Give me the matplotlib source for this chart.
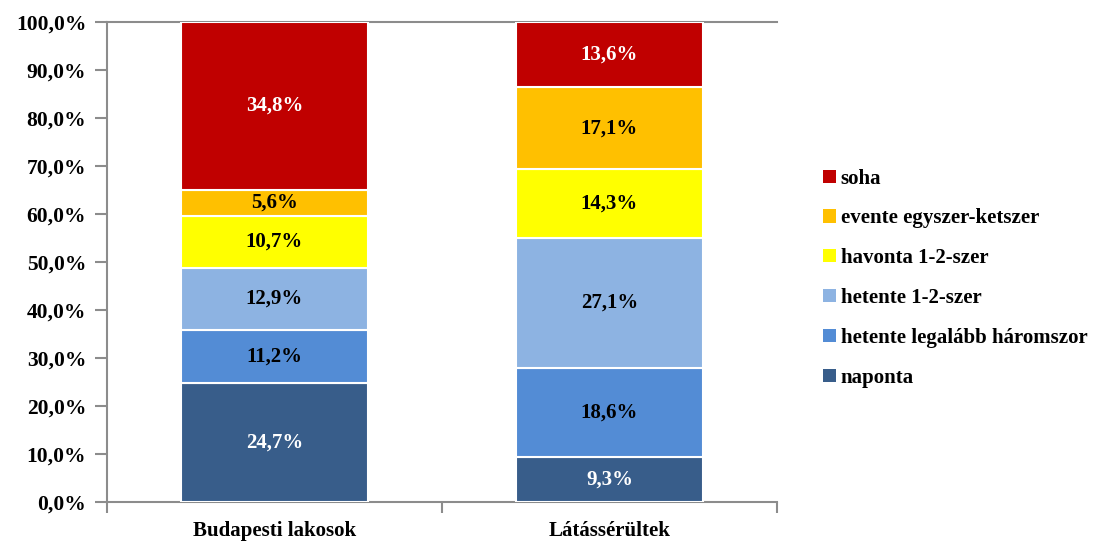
import numpy as np
import matplotlib
matplotlib.use("Agg")
import matplotlib.pyplot as plt
import matplotlib.ticker as ticker
from matplotlib.patches import Patch

plt.rcParams["font.family"] = ["Liberation Serif", "DejaVu Serif"]
plt.rcParams["font.weight"] = "bold"

# Data (percent shares, bottom to top)
groups = ["Budapesti lakosok", "Látássérültek"]
series = ["naponta", "hetente legalább háromszor", "hetente 1-2-szer",
          "havonta 1-2-szer", "evente egyszer-ketszer", "soha"]
naponta = [24.7, 9.3]
hetente_legalabb = [11.2, 18.6]
hetente_12 = [12.9, 27.1]
havonta = [10.7, 14.3]
evente = [5.6, 17.1]
soha = [34.8, 13.6]
values = [naponta, hetente_legalabb, hetente_12, havonta, evente, soha]

COLORS = ["#385D8A", "#538CD5", "#8DB3E2", "#FFFF00", "#FFC000", "#C00000"]
TEXT_COLORS = ["white", "black", "black", "black", "black", "white"]
GREY = "#8C8C8C"

fig = plt.figure(figsize=(11.04, 5.41), dpi=100)
ax = fig.add_axes([0.0969, 0.0721, 0.6069, 0.8872])

x = np.arange(len(groups))
bottom = np.zeros(len(groups))
for vals, col, tcol in zip(values, COLORS, TEXT_COLORS):
    vals = np.array(vals)
    ax.bar(x, vals, width=0.56, bottom=bottom, color=col,
           edgecolor="white", linewidth=1.5, zorder=3)
    for xi, b, v in zip(x, bottom, vals):
        ax.text(xi, b + v / 2, f"{v:.1f}%".replace(".", ","),
                ha="center", va="center", fontsize=15, fontweight="bold",
                color=tcol, zorder=4)
    bottom += vals

ax.set_xlim(-0.5, 1.5)
ax.set_ylim(0, 100)

# 100% line at the top
ax.axhline(100, color=GREY, linewidth=1.5, zorder=2, clip_on=False)

for side in ["top", "right"]:
    ax.spines[side].set_visible(False)
for side in ["left", "bottom"]:
    ax.spines[side].set_color(GREY)
    ax.spines[side].set_linewidth(1.5)

ax.yaxis.set_major_locator(ticker.MultipleLocator(10))
ax.yaxis.set_major_formatter(
    ticker.FuncFormatter(lambda v, p: f"{v:.1f}%".replace(".", ",")))
ax.tick_params(axis="y", direction="out", length=9, width=1.5, color=GREY,
               labelsize=15.5, pad=6)

ax.set_xticks([-0.5, 0.5, 1.5])
ax.set_xticklabels([])
ax.set_xticks(x, minor=True)
ax.set_xticklabels(groups, minor=True)
ax.tick_params(axis="x", which="major", direction="out", length=8, width=1.5,
               color=GREY)
ax.tick_params(axis="x", which="minor", length=0, labelsize=15, pad=14)
for lbl in ax.get_xticklabels(minor=True) + ax.get_yticklabels():
    lbl.set_fontweight("bold")

handles = [Patch(facecolor=c, edgecolor="none") for c in COLORS]
fig.legend(handles[::-1], series[::-1], loc="center left",
           bbox_to_anchor=(0.738, 0.486), frameon=False,
           prop={"size": 15, "weight": "bold"},
           handlelength=0.6, handleheight=0.6, handletextpad=0.25,
           labelspacing=0.95, borderaxespad=0)

fig.savefig("out.png", dpi=100)
